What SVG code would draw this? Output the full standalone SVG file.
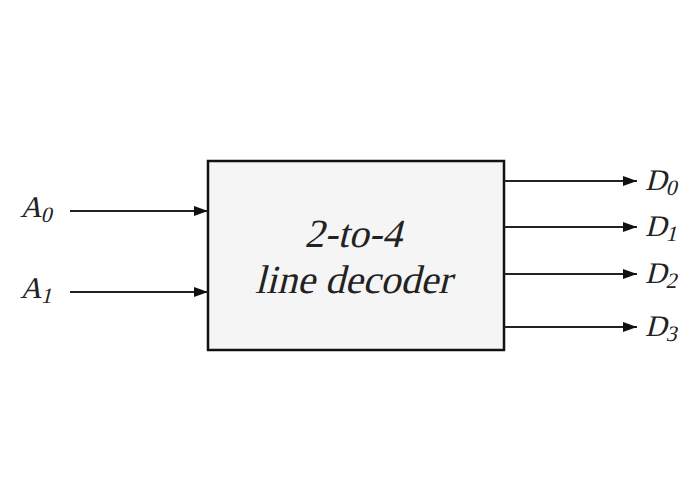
<svg xmlns="http://www.w3.org/2000/svg" width="689" height="480" viewBox="0 0 689 480">
<style>
text{font-family:"Liberation Serif","Times New Roman",serif;font-style:normal;fill:#222}
.lbl{font-size:30px}
.sub{font-size:22px}
.title{font-size:40px;text-anchor:middle}
.wire{stroke:#222;stroke-width:2;fill:none}
</style>
<defs>
<marker id="arr" viewBox="0 0 14 10" refX="14" refY="5" markerWidth="14" markerHeight="10" markerUnits="userSpaceOnUse" orient="auto">
<path d="M0,0 L14,5 L0,10 z" fill="#111"/>
</marker>
</defs>
<rect width="689" height="480" fill="#fff"/>
<g id="decoder">
<rect x="208" y="161" width="296" height="189" fill="#f5f5f5" stroke="#111" stroke-width="2.5"/>
<text class="title" transform="translate(353,247) skewX(-14)">2-to-4</text>
<text class="title" transform="translate(353,293) skewX(-14)">line decoder</text>
</g>
<g id="connectors">
<line class="wire" x1="70" y1="211" x2="208" y2="211" marker-end="url(#arr)"/>
<line class="wire" x1="70" y1="292" x2="208" y2="292" marker-end="url(#arr)"/>
<line class="wire" x1="504" y1="181" x2="637" y2="181" marker-end="url(#arr)"/>
<line class="wire" x1="504" y1="227" x2="637" y2="227" marker-end="url(#arr)"/>
<line class="wire" x1="504" y1="274" x2="637" y2="274" marker-end="url(#arr)"/>
<line class="wire" x1="504" y1="327" x2="637" y2="327" marker-end="url(#arr)"/>
</g>
<g id="A0"><text class="lbl" transform="translate(20,217) skewX(-14)">A<tspan class="sub" dy="5">0</tspan></text></g>
<g id="A1"><text class="lbl" transform="translate(20,298) skewX(-14)">A<tspan class="sub" dy="5">1</tspan></text></g>
<g id="D0"><text class="lbl" transform="translate(645,190) skewX(-14)">D<tspan class="sub" dy="5">0</tspan></text></g>
<g id="D1"><text class="lbl" transform="translate(645,236) skewX(-14)">D<tspan class="sub" dy="5">1</tspan></text></g>
<g id="D2"><text class="lbl" transform="translate(645,283) skewX(-14)">D<tspan class="sub" dy="5">2</tspan></text></g>
<g id="D3"><text class="lbl" transform="translate(645,336) skewX(-14)">D<tspan class="sub" dy="5">3</tspan></text></g>
</svg>
